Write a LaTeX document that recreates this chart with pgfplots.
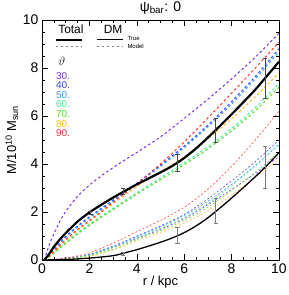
\documentclass[border=0pt]{standalone}
\usepackage{fontspec}
\setmainfont{Liberation Sans}
\usepackage{pgfplots}
\pgfplotsset{compat=1.18}
\definecolor{c30}{RGB}{119,51,221}
\definecolor{c40}{RGB}{51,68,255}
\definecolor{c50}{RGB}{51,153,255}
\definecolor{c60}{RGB}{68,238,153}
\definecolor{c70}{RGB}{85,221,34}
\definecolor{c80}{RGB}{255,187,34}
\definecolor{c90}{RGB}{255,51,51}
\definecolor{ebar}{RGB}{70,70,70}
\begin{document}
\begin{tikzpicture}
\useasboundingbox (-42bp,-35bp) rectangle (247bp,260bp);
\begin{axis}[
  scale only axis, width=237bp, height=240bp,
  xmin=0, xmax=10, ymin=0, ymax=10,
  xtick={0,2,...,10}, ytick={0,2,...,10},
  minor tick num=3, tick align=inside,
  major tick length=6bp, minor tick length=3bp,
  tick style={black, line width=0.4bp},
  axis line style={line width=0.6bp},
  /pgf/number format/assume math mode=true,
  ticklabel style={font=\fontsize{14}{16}\selectfont},
  label style={font=\fontsize{13}{15}\selectfont},
  xlabel={r / kpc},
  ylabel={M/10\textsuperscript{10} M\textsubscript{sun}},
  title={ψ\textsubscript{bar}: 0},
  title style={font=\fontsize{14}{16}\selectfont, yshift=-4bp},
  xlabel style={yshift=4bp},
  ylabel style={yshift=-2bp},
  tm/.style={line width=1.0bp, dash pattern=on 2.5bp off 2.5bp, smooth},
  dm/.style={line width=0.55bp, dash pattern=on 2bp off 2bp, smooth},
]
% ---- DM model (thin dashed)
\addplot[dm, c30] coordinates {(0.1,0)(1,0.06)(2,0.22)(3,0.52)(4,0.9)(5,1.28)(6,1.72)(7,2.3)(8,2.95)(9,3.6)(10,4.3)};
\addplot[dm, c40] coordinates {(0.1,0)(1,0.06)(2,0.24)(3,0.58)(4,1.0)(5,1.42)(6,1.9)(7,2.55)(8,3.3)(9,4.1)(10,5.0)};
\addplot[dm, c50] coordinates {(0.1,0)(1,0.06)(2,0.22)(3,0.55)(4,0.97)(5,1.38)(6,1.85)(7,2.45)(8,3.15)(9,3.95)(10,4.8)};
\addplot[dm, c60] coordinates {(0.1,0)(1,0.05)(2,0.2)(3,0.52)(4,0.92)(5,1.32)(6,1.78)(7,2.35)(8,3.1)(9,3.9)(10,4.85)};
\addplot[dm, c70] coordinates {(0.1,0)(1,0.05)(2,0.18)(3,0.45)(4,0.85)(5,1.22)(6,1.65)(7,2.2)(8,2.9)(9,3.65)(10,4.5)};
\addplot[dm, c80] coordinates {(0.1,0)(1,0.04)(2,0.16)(3,0.42)(4,0.8)(5,1.15)(6,1.55)(7,2.05)(8,2.7)(9,3.45)(10,4.2)};
\addplot[dm, c90] coordinates {(0.1,0)(1,0.08)(2,0.3)(3,0.7)(4,1.18)(5,1.65)(6,2.2)(7,2.95)(8,3.9)(9,5.0)(10,6.2)};
% ---- Total model (thick dashed)
\addplot[tm, c30] coordinates {(0.1,0)(0.3,0.62)(0.5,1.08)(0.75,1.6)(1,2.02)(1.5,2.65)(2,3.12)(2.5,3.5)(3,3.85)(3.5,4.17)(4,4.48)(4.5,4.8)(5,5.13)(6,5.9)(7,6.7)(8,7.55)(9,8.45)(10,9.45)};
\addplot[tm, c40] coordinates {(0.1,0)(0.3,0.22)(0.5,0.45)(1,0.98)(1.5,1.42)(2,1.8)(2.5,2.15)(3,2.5)(3.5,2.85)(4,3.2)(5,3.95)(6,4.75)(7,5.62)(8,6.6)(9,7.65)(10,8.8)};
\addplot[tm, c50] coordinates {(0.1,0)(0.3,0.2)(0.5,0.42)(1,0.94)(1.5,1.37)(2,1.75)(2.5,2.1)(3,2.45)(3.5,2.8)(4,3.15)(5,3.9)(6,4.68)(7,5.55)(8,6.5)(9,7.55)(10,8.68)};
\addplot[tm, c60] coordinates {(0.1,0)(0.3,0.13)(0.5,0.3)(1,0.72)(1.5,1.12)(2,1.48)(2.5,1.82)(3,2.15)(3.5,2.48)(4,2.8)(5,3.42)(6,4.05)(7,4.72)(8,5.48)(9,6.35)(10,7.35)};
\addplot[tm, c70] coordinates {(0.1,0)(0.3,0.12)(0.5,0.28)(1,0.69)(1.5,1.08)(2,1.44)(2.5,1.78)(3,2.1)(3.5,2.42)(4,2.74)(5,3.35)(6,3.97)(7,4.63)(8,5.38)(9,6.22)(10,7.2)};
\addplot[tm, c80] coordinates {(0.1,0)(0.3,0.15)(0.5,0.34)(1,0.8)(1.5,1.22)(2,1.6)(2.5,1.98)(3,2.35)(3.5,2.7)(4,3.05)(5,3.68)(6,4.3)(7,5.05)(8,5.88)(9,6.8)(10,7.8)};
\addplot[tm, c90] coordinates {(0.1,0)(0.3,0.16)(0.5,0.36)(1,0.85)(1.5,1.27)(2,1.65)(2.5,2.02)(3,2.4)(3.5,2.78)(4,3.17)(5,4.0)(6,4.92)(7,5.92)(8,6.95)(9,8.0)(10,9.08)};
% ---- True curves
\addplot[black, line width=1.3bp, smooth] coordinates {(0,0)(1,0.02)(2,0.08)(3,0.18)(3.5,0.3)(4,0.43)(4.5,0.58)(5,0.74)(5.5,0.92)(6,1.14)(6.5,1.42)(7,1.76)(7.5,2.16)(8,2.58)(8.5,3.02)(9,3.47)(9.5,3.95)(10,4.47)};
\addplot[black, line width=2.2bp, smooth] coordinates {(0.1,0)(0.3,0.25)(0.5,0.55)(0.75,0.85)(1,1.12)(1.5,1.6)(2,1.98)(2.5,2.3)(3,2.6)(3.5,2.88)(4,3.15)(4.5,3.4)(5,3.65)(5.5,3.92)(6,4.25)(6.5,4.65)(7,5.1)(7.5,5.58)(8,6.07)(8.5,6.58)(9,7.1)(9.5,7.68)(10,8.26)};
% ---- error bars
\addplot[draw=none, mark=none, error bars/.cd, y dir=both, y explicit, error mark=-,
  error bar style={draw=ebar, line width=0.7bp}, error mark options={rotate=90, draw=ebar, mark size=2.2bp, line width=0.7bp}]
  coordinates {(2.05,1.98) +- (0,0.06) (3.42,2.86) +- (0,0.12) (5.72,4.05) +- (0,0.35) (7.33,5.42) +- (0,0.5) (9.41,7.57) +- (0,0.85)};
\addplot[draw=none, mark=none, error bars/.cd, y dir=both, y explicit, error mark=-,
  error bar style={draw=ebar!70, line width=0.7bp}, error mark options={rotate=90, draw=ebar!70, mark size=2.2bp, line width=0.7bp}]
  coordinates {(3.42,0.27) +- (0,0.06) (5.72,1.03) +- (0,0.33) (7.33,2.05) +- (0,0.51) (9.41,3.86) +- (0,0.87)};
% ---- legend
\node[font=\fontsize{12}{14}\selectfont] at (axis cs:1.22,9.62) {Total};
\node[font=\fontsize{12}{14}\selectfont] at (axis cs:3.0,9.62) {DM};
\draw[black, line width=2.2bp] (axis cs:0.59,9.18) -- (axis cs:1.69,9.18);
\draw[black, line width=1.2bp] (axis cs:2.32,9.18) -- (axis cs:3.42,9.18);
\draw[gray, line width=0.9bp, dash pattern=on 2.5bp off 2.5bp] (axis cs:0.59,8.9) -- (axis cs:1.69,8.9);
\draw[gray, line width=0.5bp, dash pattern=on 2.5bp off 2.5bp] (axis cs:2.32,8.9) -- (axis cs:3.42,8.9);
\node[anchor=west, font=\fontsize{6}{7}\selectfont, inner sep=0pt] at (axis cs:3.6,9.25) {True};
\node[anchor=west, font=\fontsize{6}{7}\selectfont, inner sep=0pt] at (axis cs:3.6,8.92) {Model};
\node[font=\fontsize{12}{14}\selectfont] at (axis cs:0.84,8.29) {$\vartheta$};
\node[anchor=west, inner sep=0pt, font=\fontsize{10}{12}\selectfont, text=c30] at (axis cs:0.59,7.67) {30.};
\node[anchor=west, inner sep=0pt, font=\fontsize{10}{12}\selectfont, text=c40] at (axis cs:0.59,7.27) {40.};
\node[anchor=west, inner sep=0pt, font=\fontsize{10}{12}\selectfont, text=c50] at (axis cs:0.59,6.88) {50.};
\node[anchor=west, inner sep=0pt, font=\fontsize{10}{12}\selectfont, text=c60] at (axis cs:0.59,6.48) {60.};
\node[anchor=west, inner sep=0pt, font=\fontsize{10}{12}\selectfont, text=c70] at (axis cs:0.59,6.08) {70.};
\node[anchor=west, inner sep=0pt, font=\fontsize{10}{12}\selectfont, text=c80] at (axis cs:0.59,5.68) {80.};
\node[anchor=west, inner sep=0pt, font=\fontsize{10}{12}\selectfont, text=c90] at (axis cs:0.59,5.29) {90.};
\end{axis}
\end{tikzpicture}
\end{document}
